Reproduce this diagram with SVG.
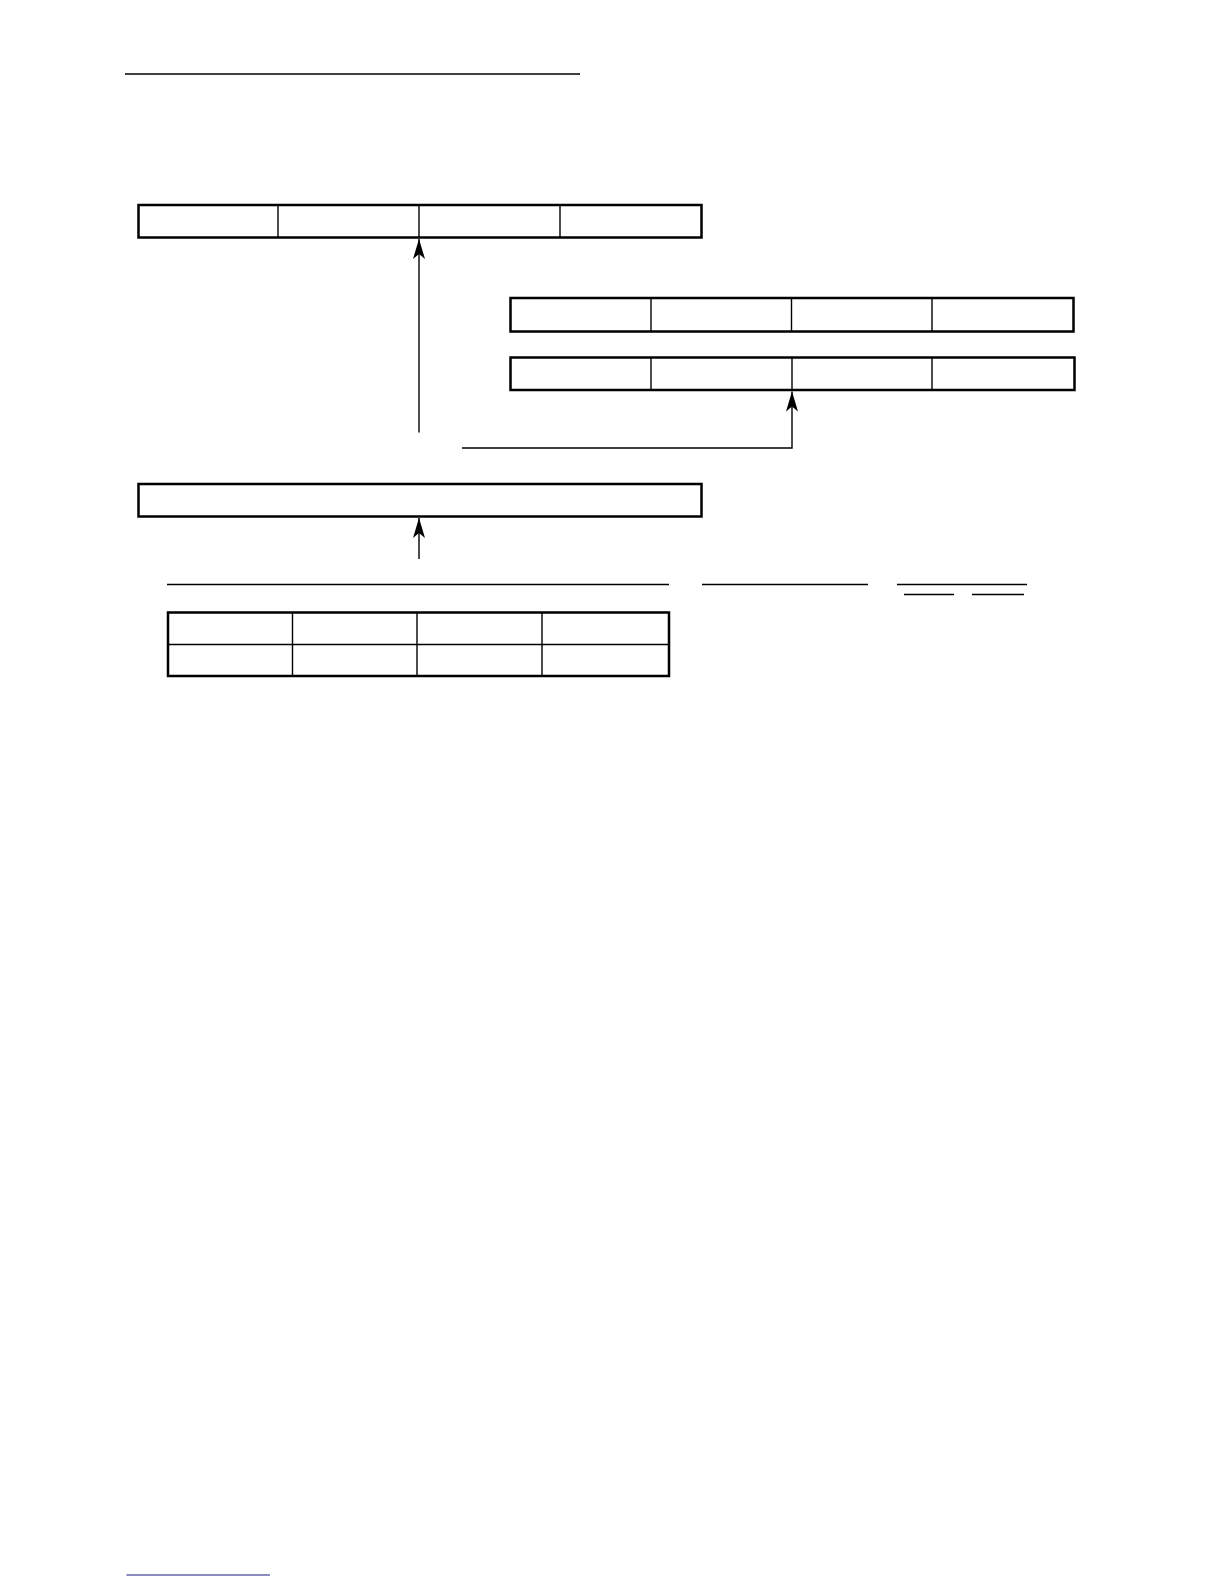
<svg xmlns="http://www.w3.org/2000/svg" width="1224" height="1584" viewBox="0 0 1224 1584">
<style>
.box{fill:#fff;stroke:#000;stroke-width:2.5}
.div{stroke:#000;stroke-width:1.4;fill:none}
.rule{stroke:#000;stroke-width:1.6;fill:none}
.conn{stroke:#000;stroke-width:1.4;fill:none}
</style>
<defs>
<marker id="ah" viewBox="0 0 20 12" refX="20" refY="6" markerWidth="20" markerHeight="12" markerUnits="userSpaceOnUse" orient="auto">
<path d="M0,0 L20,6 L0,12 L5,6 Z" fill="#000"/>
</marker>
</defs>
<rect width="1224" height="1584" fill="#fff"/>
<line class="rule" x1="125" y1="74" x2="580" y2="74"/>
<g id="box1">
<rect class="box" x="138.5" y="205" width="563" height="32.5"/>
<line class="div" x1="278" y1="205" x2="278" y2="237.5"/>
<line class="div" x1="419" y1="205" x2="419" y2="237.5"/>
<line class="div" x1="560" y1="205" x2="560" y2="237.5"/>
</g>
<g id="box2">
<rect class="box" x="510.5" y="298" width="563" height="33.5"/>
<line class="div" x1="651" y1="298" x2="651" y2="331.5"/>
<line class="div" x1="791.5" y1="298" x2="791.5" y2="331.5"/>
<line class="div" x1="932" y1="298" x2="932" y2="331.5"/>
</g>
<g id="box3">
<rect class="box" x="510.5" y="357.5" width="564" height="32.5"/>
<line class="div" x1="651" y1="357.5" x2="651" y2="390"/>
<line class="div" x1="792" y1="357.5" x2="792" y2="390"/>
<line class="div" x1="932" y1="357.5" x2="932" y2="390"/>
</g>
<g id="box4">
<rect class="box" x="138.5" y="484" width="563" height="32.5"/>
</g>
<g id="labels">
<line class="rule" x1="167" y1="584.5" x2="669" y2="584.5"/>
<line class="rule" x1="702" y1="584.5" x2="868" y2="584.5"/>
<line class="rule" x1="897" y1="584.5" x2="1027" y2="584.5"/>
<line class="rule" x1="904" y1="594.5" x2="954" y2="594.5"/>
<line class="rule" x1="972" y1="594.5" x2="1024" y2="594.5"/>
</g>
<g id="table">
<rect class="box" x="168" y="612.5" width="501" height="63.5"/>
<line class="div" x1="168" y1="644.5" x2="669" y2="644.5"/>
<line class="div" x1="292.5" y1="612.5" x2="292.5" y2="676"/>
<line class="div" x1="417" y1="612.5" x2="417" y2="676"/>
<line class="div" x1="542" y1="612.5" x2="542" y2="676"/>
</g>
<g id="connectors">
<line class="conn" x1="419" y1="432.5" x2="419" y2="239" marker-end="url(#ah)"/>
<polyline class="conn" points="462,448 792,448 792,391.5" marker-end="url(#ah)"/>
<line class="conn" x1="419" y1="559" x2="419" y2="518" marker-end="url(#ah)"/>
</g>
<line x1="126.5" y1="1575" x2="270" y2="1575" stroke="#1a1a80" stroke-width="1.2"/>
</svg>
